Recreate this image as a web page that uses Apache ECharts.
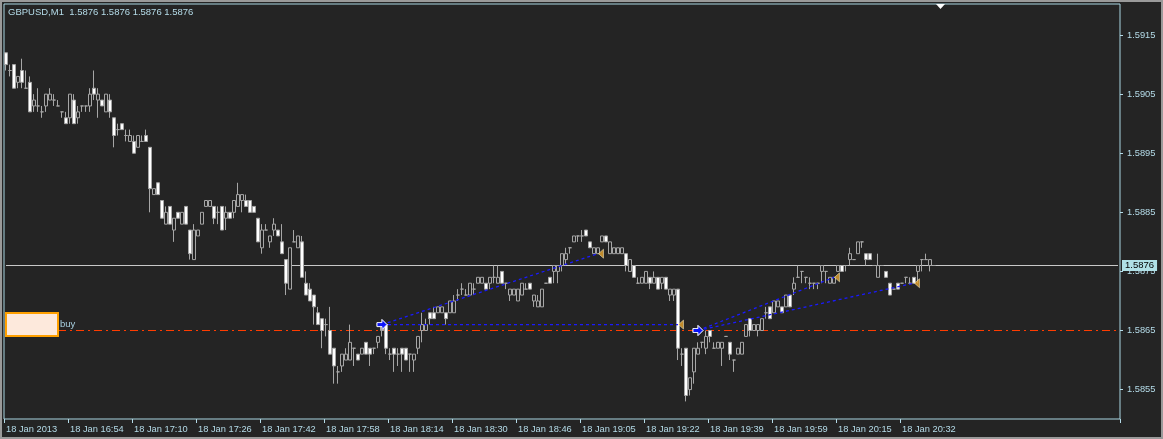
<!DOCTYPE html>
<html>
<head>
<meta charset="utf-8">
<script src="https://cdn.jsdelivr.net/npm/echarts@6/dist/echarts.min.js"></script>
<style>
html,body{margin:0;padding:0;background:#242424;}
#c{width:1163px;height:439px;}
</style>
</head>
<body>
<div id="c"></div>
<script>
// ---- data (GBPUSD M1) ----
const symbolTitle = 'GBPUSD,M1  1.5876 1.5876 1.5876 1.5876';
const slotCount = 279; // bar slots incl. chart shift space
const tickLabels = ['18 Jan 2013','18 Jan 16:54','18 Jan 17:10','18 Jan 17:26','18 Jan 17:42','18 Jan 17:58','18 Jan 18:14','18 Jan 18:30','18 Jan 18:46','18 Jan 19:05','18 Jan 19:22','18 Jan 19:39','18 Jan 19:59','18 Jan 20:15','18 Jan 20:32'];
const priceTicks = [1.5855,1.5865,1.5875,1.5885,1.5895,1.5905,1.5915];

const opens = [1.5912,1.5909,1.5910,1.5907,1.5909,1.5906,1.5907,1.5903,1.5903,1.5902,
1.5903,1.5904,1.5904,1.5903,1.5902,1.5901,1.5901,1.5904,1.5901,1.5903,
1.5903,1.5903,1.5906,1.5904,1.5904,1.5902,1.5904,1.5901,1.5899,1.5900,
1.5898,1.5897,1.5897,1.5896,1.5897,1.5898,1.5896,1.5888,1.5890,1.5887,
1.5883,1.5886,1.5882,1.5885,1.5883,1.5886,1.5882,1.5877,1.5881,1.5883,
1.5886,1.5886,1.5886,1.5885,1.5886,1.5884,1.5885,1.5885,1.5886,1.5887,
1.5887,1.5887,1.5886,1.5884,1.5879,1.5882,1.5880,1.5882,1.5882,1.5880,
1.5877,1.5872,1.5880,1.5879,1.5880,1.5873,1.5872,1.5871,1.5868,1.5867,
1.5866,1.5865,1.5862,1.5858,1.5859,1.5860,1.5860,1.5862,1.5861,1.5861,
1.5863,1.5862,1.5862,1.5863,1.5865,1.5866,1.5861,1.5862,1.5861,1.5862,
1.5862,1.5861,1.5860,1.5862,1.5865,1.5865,1.5868,1.5868,1.5868,1.5868,
1.5868,1.5868,1.5868,1.5871,1.5872,1.5871,1.5871,1.5872,1.5873,1.5873,
1.5873,1.5873,1.5874,1.5873,1.5875,1.5873,1.5871,1.5871,1.5870,1.5871,
1.5872,1.5873,1.5870,1.5869,1.5869,1.5873,1.5874,1.5875,1.5875,1.5876,
1.5877,1.5879,1.5880,1.5881,1.5881,1.5882,1.5880,1.5878,1.5878,1.5880,
1.5881,1.5878,1.5878,1.5878,1.5878,1.5878,1.5875,1.5876,1.5873,1.5873,
1.5873,1.5874,1.5873,1.5874,1.5873,1.5874,1.5871,1.5871,1.5872,1.5861,
1.5862,1.5855,1.5858,1.5861,1.5863,1.5862,1.5865,1.5862,1.5862,1.5862,
1.5864,1.5863,1.5860,1.5861,1.5861,1.5864,1.5867,1.5865,1.5865,1.5865,
1.5868,1.5869,1.5868,1.5869,1.5869,1.5869,1.5871,1.5872,1.5874,1.5875,
1.5874,1.5873,1.5873,1.5873,1.5875,1.5875,1.5873,1.5873,1.5875,1.5876,
1.5876,1.5877,1.5877,1.5878,1.5880,1.5878,1.5878,1.5876,1.5874,1.5876,
1.5875,1.5873,1.5872,1.5873,1.5873,1.5874,1.5873,1.5874,1.5875,1.5877,
1.5877,1.5876,1.5876];

const highs = [1.5912,1.5910,1.5910,1.5908,1.5911,1.5909,1.5908,1.5905,1.5906,1.5903,
1.5905,1.5906,1.5905,1.5904,1.5902,1.5902,1.5905,1.5905,1.5903,1.5903,
1.5903,1.5906,1.5909,1.5906,1.5904,1.5905,1.5905,1.5901,1.5900,1.5900,
1.5899,1.5899,1.5898,1.5898,1.5898,1.5899,1.5896,1.5889,1.5890,1.5887,
1.5886,1.5886,1.5884,1.5885,1.5885,1.5886,1.5882,1.5883,1.5882,1.5885,
1.5887,1.5887,1.5886,1.5886,1.5886,1.5886,1.5885,1.5887,1.5890,1.5888,
1.5888,1.5887,1.5886,1.5884,1.5883,1.5883,1.5881,1.5884,1.5882,1.5883,
1.5877,1.5879,1.5882,1.5881,1.5881,1.5875,1.5873,1.5871,1.5869,1.5867,
1.5867,1.5869,1.5862,1.5859,1.5861,1.5862,1.5866,1.5862,1.5861,1.5862,
1.5863,1.5862,1.5862,1.5864,1.5866,1.5866,1.5862,1.5862,1.5862,1.5862,
1.5862,1.5861,1.5861,1.5864,1.5868,1.5867,1.5868,1.5869,1.5869,1.5869,
1.5868,1.5870,1.5871,1.5872,1.5873,1.5872,1.5873,1.5873,1.5874,1.5874,
1.5873,1.5874,1.5876,1.5876,1.5875,1.5873,1.5872,1.5872,1.5872,1.5873,
1.5873,1.5873,1.5871,1.5871,1.5872,1.5873,1.5874,1.5876,1.5876,1.5878,
1.5879,1.5879,1.5881,1.5881,1.5882,1.5882,1.5880,1.5879,1.5879,1.5881,
1.5881,1.5880,1.5879,1.5879,1.5879,1.5878,1.5877,1.5876,1.5874,1.5874,
1.5875,1.5874,1.5875,1.5874,1.5874,1.5874,1.5872,1.5872,1.5872,1.5862,
1.5862,1.5857,1.5862,1.5863,1.5863,1.5865,1.5865,1.5863,1.5863,1.5863,
1.5864,1.5863,1.5860,1.5862,1.5863,1.5866,1.5867,1.5866,1.5866,1.5867,
1.5869,1.5869,1.5870,1.5870,1.5869,1.5871,1.5871,1.5874,1.5876,1.5875,
1.5874,1.5874,1.5873,1.5873,1.5876,1.5875,1.5874,1.5874,1.5876,1.5876,
1.5876,1.5879,1.5877,1.5880,1.5880,1.5878,1.5878,1.5876,1.5878,1.5876,
1.5875,1.5873,1.5872,1.5873,1.5873,1.5874,1.5874,1.5874,1.5876,1.5877,
1.5878,1.5877,1.5876];

const lows = [1.5909,1.5908,1.5906,1.5906,1.5906,1.5906,1.5902,1.5902,1.5902,1.5901,
1.5902,1.5904,1.5903,1.5903,1.5901,1.5900,1.5900,1.5900,1.5900,1.5902,
1.5902,1.5902,1.5904,1.5901,1.5903,1.5902,1.5901,1.5896,1.5898,1.5899,
1.5897,1.5897,1.5895,1.5896,1.5897,1.5897,1.5885,1.5888,1.5888,1.5884,
1.5883,1.5883,1.5880,1.5884,1.5883,1.5883,1.5877,1.5877,1.5881,1.5883,
1.5886,1.5886,1.5883,1.5883,1.5882,1.5882,1.5884,1.5884,1.5886,1.5885,
1.5886,1.5885,1.5885,1.5880,1.5878,1.5882,1.5879,1.5881,1.5881,1.5878,
1.5871,1.5872,1.5880,1.5879,1.5874,1.5871,1.5870,1.5866,1.5866,1.5862,
1.5864,1.5861,1.5856,1.5856,1.5858,1.5860,1.5860,1.5859,1.5860,1.5861,
1.5861,1.5859,1.5861,1.5862,1.5864,1.5861,1.5860,1.5858,1.5859,1.5858,
1.5860,1.5858,1.5858,1.5861,1.5863,1.5865,1.5866,1.5867,1.5868,1.5868,
1.5866,1.5868,1.5868,1.5870,1.5871,1.5871,1.5871,1.5871,1.5873,1.5873,
1.5872,1.5872,1.5873,1.5873,1.5873,1.5872,1.5870,1.5871,1.5870,1.5871,
1.5872,1.5872,1.5869,1.5869,1.5869,1.5873,1.5873,1.5873,1.5873,1.5875,
1.5876,1.5878,1.5880,1.5880,1.5880,1.5881,1.5879,1.5878,1.5878,1.5880,
1.5880,1.5878,1.5878,1.5878,1.5878,1.5875,1.5875,1.5874,1.5873,1.5873,
1.5873,1.5872,1.5873,1.5872,1.5872,1.5872,1.5870,1.5870,1.5860,1.5859,
1.5853,1.5854,1.5856,1.5861,1.5862,1.5861,1.5863,1.5862,1.5862,1.5859,
1.5864,1.5860,1.5858,1.5861,1.5861,1.5864,1.5864,1.5865,1.5864,1.5865,
1.5867,1.5867,1.5868,1.5869,1.5868,1.5869,1.5869,1.5871,1.5874,1.5873,
1.5873,1.5872,1.5872,1.5872,1.5873,1.5873,1.5873,1.5873,1.5875,1.5875,
1.5875,1.5876,1.5877,1.5878,1.5879,1.5876,1.5877,1.5876,1.5874,1.5876,
1.5874,1.5871,1.5872,1.5872,1.5873,1.5873,1.5873,1.5873,1.5873,1.5875,
1.5877,1.5875,1.5876];

const closes = [1.5910,1.5909,1.5906,1.5908,1.5907,1.5906,1.5902,1.5904,1.5903,1.5902,
1.5905,1.5905,1.5904,1.5903,1.5902,1.5900,1.5905,1.5900,1.5902,1.5903,
1.5903,1.5905,1.5905,1.5905,1.5903,1.5905,1.5902,1.5898,1.5899,1.5899,
1.5898,1.5898,1.5895,1.5898,1.5897,1.5897,1.5889,1.5889,1.5888,1.5884,
1.5885,1.5883,1.5884,1.5884,1.5885,1.5883,1.5878,1.5882,1.5882,1.5885,
1.5887,1.5887,1.5884,1.5885,1.5882,1.5885,1.5884,1.5887,1.5888,1.5888,
1.5886,1.5885,1.5885,1.5880,1.5882,1.5882,1.5881,1.5883,1.5881,1.5878,
1.5873,1.5879,1.5880,1.5881,1.5874,1.5871,1.5870,1.5869,1.5866,1.5865,
1.5866,1.5861,1.5859,1.5858,1.5861,1.5861,1.5863,1.5862,1.5860,1.5862,
1.5861,1.5861,1.5862,1.5864,1.5866,1.5862,1.5861,1.5861,1.5861,1.5861,
1.5860,1.5861,1.5861,1.5864,1.5866,1.5866,1.5867,1.5867,1.5869,1.5869,
1.5867,1.5870,1.5870,1.5871,1.5872,1.5871,1.5873,1.5872,1.5874,1.5874,
1.5872,1.5874,1.5874,1.5874,1.5873,1.5873,1.5872,1.5872,1.5872,1.5873,
1.5872,1.5872,1.5871,1.5870,1.5872,1.5873,1.5873,1.5876,1.5876,1.5878,
1.5878,1.5879,1.5881,1.5881,1.5881,1.5881,1.5879,1.5879,1.5879,1.5881,
1.5880,1.5880,1.5879,1.5879,1.5879,1.5876,1.5877,1.5874,1.5873,1.5874,
1.5875,1.5873,1.5874,1.5872,1.5874,1.5872,1.5872,1.5872,1.5862,1.5861,
1.5854,1.5857,1.5862,1.5862,1.5863,1.5864,1.5864,1.5862,1.5863,1.5863,
1.5864,1.5861,1.5860,1.5862,1.5863,1.5866,1.5865,1.5866,1.5866,1.5867,
1.5868,1.5867,1.5870,1.5870,1.5868,1.5871,1.5869,1.5873,1.5874,1.5875,
1.5874,1.5873,1.5873,1.5873,1.5876,1.5875,1.5874,1.5874,1.5876,1.5875,
1.5876,1.5878,1.5877,1.5880,1.5880,1.5877,1.5877,1.5876,1.5876,1.5876,
1.5874,1.5871,1.5872,1.5872,1.5873,1.5874,1.5873,1.5873,1.5876,1.5877,
1.5877,1.5877,1.5876];

// trades (open bar index / price, close bar index / price)
const tradeOpenIdx = [94, 94, 173, 173];
const tradeOpenPrice = [1.5866, 1.5866, 1.5865, 1.5865];
const tradeCloseIdx = [148, 168, 207, 227];
const tradeClosePrice = [1.5878, 1.5866, 1.5874, 1.5873];

const currentPrice = 1.5876;
const pendingBuyPrice = 1.5865;
const pendingLineStartIdx = 13;

// ---- build ----
const categories = [];
for (let i = 0; i < slotCount; i++) categories.push(String(i));
const ohlc = opens.map((o, i) => [o, closes[i], lows[i], highs[i]]);

const FG = '#b4dbe8';
const FONT = 'Liberation Sans';

const series = [];

// current price line (full width)
series.push({
  type: 'line',
  data: [[0, currentPrice], [slotCount - 1, currentPrice]],
  showSymbol: false, symbol: 'none', silent: true,
  lineStyle: { color: '#c8c8c8', width: 1, type: 'solid' },
  endLabel: {
    show: true, formatter: currentPrice.toFixed(4), distance: 4,
    backgroundColor: '#b0e0e6', color: '#000000', padding: [1, 3, 0, 3],
    fontFamily: FONT, fontSize: 9.5
  },
  z: 1
});
// pending buy level (dash-dot)
series.push({
  type: 'line',
  data: [[pendingLineStartIdx, pendingBuyPrice], [slotCount - 1, pendingBuyPrice]],
  showSymbol: false, symbol: 'none', silent: true,
  lineStyle: { color: '#ff3c00', width: 1, type: [8, 4, 2, 4] },
  z: 1
});

series.push({
  type: 'candlestick',
  data: ohlc,
  barWidth: 3,
  itemStyle: {
    color: '#242424', borderColor: '#a6a6a6',
    color0: '#ffffff', borderColor0: '#a6a6a6', borderWidth: 1
  },
  z: 2
});

for (let t = 0; t < tradeOpenIdx.length; t++) {
  series.push({
    type: 'line',
    data: [[tradeOpenIdx[t], tradeOpenPrice[t]], [tradeCloseIdx[t], tradeClosePrice[t]]],
    showSymbol: false, symbol: 'none',
    lineStyle: { color: '#1a1aff', width: 1.3, type: [3, 3] },
    silent: true, z: 3
  });
}

series.push({
  type: 'scatter',
  data: tradeOpenIdx.map((x, i) => [x, tradeOpenPrice[i]]),
  symbol: 'path://M0,3L5,3L5,0L10,5L5,10L5,7L0,7Z',
  symbolSize: [10, 10],
  itemStyle: { color: '#0a14ff', borderColor: '#ffffff', borderWidth: 1 },
  silent: true, z: 5
});
series.push({
  type: 'scatter',
  data: tradeCloseIdx.map((x, i) => [x, tradeClosePrice[i]]),
  symbol: 'path://M0,5L6,0L6,10Z',
  symbolSize: [5, 9],
  symbolOffset: [3, 0],
  itemStyle: { color: '#e8a630', borderColor: '#fff6d0', borderWidth: 0.6 },
  silent: true, z: 5
});

const chart = echarts.init(document.getElementById('c'), null, { renderer: 'canvas' });
chart.setOption({
  animation: false,
  backgroundColor: '#242424',
  grid: { left: 4, right: 43, top: 4, bottom: 20, show: true, borderColor: '#a9d6e2', borderWidth: 1, backgroundColor: 'transparent' },
  xAxis: {
    type: 'category', data: categories, boundaryGap: true,
    axisLine: { show: false },
    axisTick: { show: true, length: 4, lineStyle: { color: FG },
      interval: (i) => i % 16 === 0 && i / 16 < tickLabels.length },
    axisLabel: {
      show: true, align: 'left', margin: 6, color: FG, fontFamily: FONT, fontSize: 9.3,
      interval: (i) => i % 16 === 0 && i / 16 < tickLabels.length,
      formatter: (v, i) => tickLabels[i / 16] || ''
    },
    splitLine: { show: false }
  },
  yAxis: {
    type: 'value', position: 'right', scale: true,
    min: 1.5850023, max: 1.5920255,
    axisLine: { show: false },
    axisTick: { show: true, length: 3, customValues: priceTicks, lineStyle: { color: FG } },
    axisLabel: { show: true, customValues: priceTicks, margin: 7, color: FG, fontFamily: FONT, fontSize: 9.3,
      formatter: (v) => v.toFixed(4) },
    splitLine: { show: false }
  },
  graphic: [
    { type: 'rect', shape: { x: 1, y: 1, width: 1161, height: 437 }, style: { fill: 'none', stroke: '#9a9a9a', lineWidth: 2 }, silent: true, z: 100 },
    { type: 'text', left: 8, top: 7, style: { text: symbolTitle, fill: FG, font: '9.5px "Liberation Sans"' }, z: 100 },
    { type: 'polygon', shape: { points: [[936, 4], [945, 4], [940.5, 9]] }, style: { fill: '#ffffff' }, z: 100 },
    { type: 'rect', shape: { x: 6, y: 313, width: 52, height: 23 }, style: { fill: '#fde9dc', stroke: '#ffa000', lineWidth: 2 }, z: 100 },
    { type: 'text', left: 60, top: 319, style: { text: 'buy', fill: '#a8d0e0', font: '9.5px "Liberation Sans"' }, z: 100 }
  ],
  series: series
});
</script>
</body>
</html>
